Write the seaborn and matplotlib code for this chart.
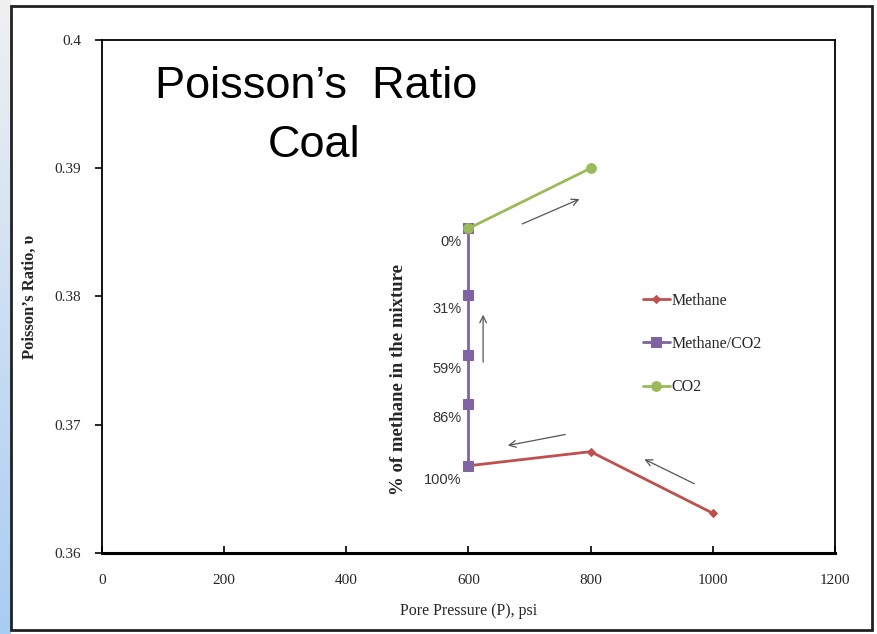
import numpy as np
import pandas as pd
import matplotlib.pyplot as plt
import seaborn as sns
from matplotlib.patches import Rectangle

# values
methane_p = [600, 800, 1000]
methane_nu = [0.3668, 0.3679, 0.3631]

mix_p = [600, 600, 600, 600, 600]
mix_nu = [0.3668, 0.3716, 0.3754, 0.3801, 0.3853]
mix_pct = ['100%', '86%', '59%', '31%', '0%']

co2_p = [600, 800]
co2_nu = [0.3853, 0.3900]

series_names = ['Methane', 'Methane/CO2', 'CO2']
colors = {'Methane': '#C0504D', 'Methane/CO2': '#8064A2', 'CO2': '#9BBB59'}
markers = {'Methane': 'D', 'Methane/CO2': 's', 'CO2': 'o'}
msizes = {'Methane': 4, 'Methane/CO2': 7, 'CO2': 7}

data = pd.concat([
    pd.DataFrame({'P': methane_p, 'nu': methane_nu, 'Series': 'Methane'}),
    pd.DataFrame({'P': mix_p, 'nu': mix_nu, 'Series': 'Methane/CO2'}),
    pd.DataFrame({'P': co2_p, 'nu': co2_nu, 'Series': 'CO2'}),
], ignore_index=True)

sns.set_theme(style='white')
plt.rcParams['font.family'] = ['Liberation Serif', 'DejaVu Serif']

fig = plt.figure(figsize=(8.77, 6.34), dpi=100)
ax = fig.add_axes([0.1163, 0.1278, 0.8357, 0.8092])

handles = []
for name in series_names:
    sub = data[data['Series'] == name]
    sns.lineplot(data=sub, x='P', y='nu', ax=ax, sort=False, estimator=None,
                 color=colors[name], marker=markers[name], markersize=msizes[name],
                 markeredgecolor=colors[name], linewidth=2, legend=False)
    handles.append(ax.lines[-1])

ax.set_xlim(0, 1200)
ax.set_ylim(0.36, 0.4)
ax.set_xticks(np.arange(0, 1201, 200))
ax.set_yticks([0.36, 0.37, 0.38, 0.39, 0.4])
ax.set_yticklabels(['0.36', '0.37', '0.38', '0.39', '0.4'])
ax.tick_params(axis='x', direction='in', length=5, width=1.2, labelsize=11, pad=15, color='black')
ax.tick_params(axis='y', direction='out', length=5, width=1.2, labelsize=11, pad=10, color='black')
ax.tick_params(left=True, bottom=True)
for s in ['left', 'right', 'top']:
    ax.spines[s].set_color('black')
    ax.spines[s].set_linewidth(1.3)
ax.spines['bottom'].set_color('black')
ax.spines['bottom'].set_linewidth(2.2)

ax.set_xlabel('Pore Pressure (P), psi', fontsize=11.5, labelpad=12)
ax.set_ylabel("Poisson\u2019s Ratio, \u03c5", fontsize=12, fontweight='bold', labelpad=12)

# legend without frame
ax.legend(handles, series_names, loc='upper left', bbox_to_anchor=(0.718, 0.535),
          frameon=False, fontsize=11.5, handlelength=1.7, handletextpad=0.1,
          labelspacing=1.7)

# title text inside plot
ax.text(0.292, 0.910, "Poisson\u2019s  Ratio", transform=ax.transAxes,
        ha='center', va='center', fontsize=32.5, family='Liberation Sans', color='black')
ax.text(0.289, 0.795, "Coal", transform=ax.transAxes,
        ha='center', va='center', fontsize=32.5, family='Liberation Sans', color='black')

# percentage labels along the mixture line
for p, nu, lab in zip(mix_p, mix_nu, mix_pct):
    ax.annotate(lab, (p, nu), xytext=(-5, -10), textcoords='offset points',
                ha='right', va='center', fontsize=10.5, family='Liberation Sans',
                color='#333333')

ax.text(485, 0.3735, '% of methane in the mixture', rotation=90, ha='center',
        va='center', fontsize=13.5, fontweight='bold')

# direction arrows
arrow_kw = dict(arrowstyle='->', color='#555555', lw=0.9)
for start, end in [((684, 0.38557), (786, 0.38768)),
                   ((624, 0.37466), (624, 0.37879)),
                   ((763, 0.36928), (660, 0.36834)),
                   ((974, 0.3653), (884, 0.3674))]:
    ax.annotate('', xy=end, xytext=start, arrowprops=arrow_kw)

# slide frame and blue side strip
strip = fig.add_axes([0, 0, 0.012, 1])
grad = np.linspace(0, 1, 256).reshape(-1, 1)
strip.imshow(grad, aspect='auto', cmap=sns.light_palette('#a9ccf2', as_cmap=True),
             extent=[0, 1, 0, 1])
strip.axis('off')
fig.patches.append(Rectangle((0.012, 0.006), 0.982, 0.985, transform=fig.transFigure,
                             fill=False, edgecolor='#222222', linewidth=2))

fig.savefig('out.png', dpi=100)
